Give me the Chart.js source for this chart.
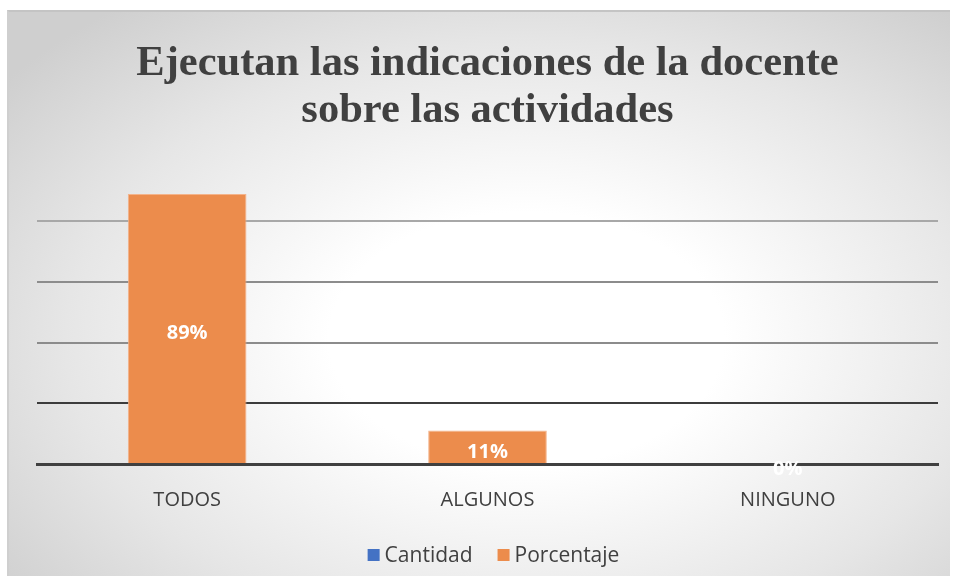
<!DOCTYPE html>
<html>
<head>
<meta charset="utf-8">
<script src="https://cdn.jsdelivr.net/npm/chart.js@4.4.0/dist/chart.umd.min.js"></script>
<style>
  html, body { margin: 0; padding: 0; background: #fff; }
  #box {
    position: absolute; left: 7px; top: 10px; width: 943px; height: 566px;
    background: radial-gradient(ellipse 70% 75% at 55% 58%, #ffffff 30%, #e6e6e6 70%, #cfcfcf 100%);
    border-top: 2px solid #c4c4c4; border-left: 2px solid #cfcfcf;
    box-sizing: border-box;
  }
  canvas { display: block; }
</style>
</head>
<body>
<div id="box"><canvas id="myChart" width="941" height="564"></canvas></div>
<script>
// datos
var categorias = ['TODOS', 'ALGUNOS', 'NINGUNO'];
var cantidad = [null, null, null];
var porcentaje = [0.89, 0.11, 0];
var etiquetas = ['89%', '11%', '0%'];
var tituloLineas = ['Ejecutan las indicaciones de la docente', 'sobre las actividades'];

const ctx = document.getElementById('myChart');

// etiquetas blancas dentro de las barras
const etiquetasPlugin = {
  id: 'etiquetas',
  afterDatasetsDraw(chart) {
    const c = chart.ctx;
    const meta = chart.getDatasetMeta(1);
    c.save();
    c.fillStyle = '#ffffff';
    c.font = 'bold 20px "Open Sans", sans-serif';
    c.textAlign = 'center';
    c.textBaseline = 'middle';
    meta.data.forEach(function(bar, i) {
      const y = (bar.y + bar.base) / 2 + 5;
      c.fillText(etiquetas[i], bar.x, y);
    });
    c.restore();
  }
};

// leyenda a mano (el espaciado de Excel es mas ancho)
const leyendaPlugin = {
  id: 'leyenda',
  afterDraw(chart) {
    const c = chart.ctx;
    const sets = chart.data.datasets;
    c.save();
    c.font = '21px "Open Sans", sans-serif';
    c.textBaseline = 'middle';
    c.textAlign = 'left';
    const caja = 12, sep = 5, hueco = 25;
    let total = 0;
    sets.forEach(function(d, i) {
      total += caja + sep + c.measureText(d.label).width + (i < sets.length - 1 ? hueco : 0);
    });
    let x = 484.5 - total / 2;
    const y = 543;
    sets.forEach(function(d) {
      c.fillStyle = d.backgroundColor;
      c.fillRect(x, y - caja / 2, caja, caja);
      x += caja + sep;
      c.fillStyle = '#404040';
      c.fillText(d.label, x, y + 1);
      x += c.measureText(d.label).width + hueco;
    });
    c.restore();
  }
};

var chart1 = new Chart(ctx, {
  type: 'bar',
  data: {
    labels: categorias,
    datasets: [{
      label: 'Cantidad',
      data: cantidad,
      backgroundColor: '#4472C4',
      borderColor: '#6f93d6',
      borderWidth: 1
    }, {
      label: 'Porcentaje',
      data: porcentaje,
      backgroundColor: '#EC8C4C',
      borderColor: '#F4B38A',
      borderWidth: 1,
      borderSkipped: 'bottom'
    }]
  },
  plugins: [etiquetasPlugin, leyendaPlugin],
  options: {
    responsive: false,
    animation: false,
    skipNull: true,
    barPercentage: 0.395,
    categoryPercentage: 1,
    layout: { padding: { left: 28, right: 12, top: 0, bottom: 40 } },
    plugins: {
      title: {
        display: true,
        text: tituloLineas,
        color: '#404040',
        font: { family: '"Liberation Serif", "Times New Roman", serif', size: 42.5, weight: 'bold', lineHeight: 1.1 },
        padding: { top: 28.5, bottom: 26.5 }
      },
      legend: { display: false },
      tooltip: { enabled: false }
    },
    scales: {
      x: {
        grid: { display: false, drawTicks: false },
        border: { display: true, color: '#404040', width: 3 },
        ticks: {
          color: '#404040',
          font: { family: '"Open Sans", sans-serif', size: 20 },
          padding: 24
        }
      },
      y: {
        min: 0,
        max: 1,
        ticks: { display: false, stepSize: 0.2 },
        border: { display: false },
        grid: {
          drawTicks: false,
          lineWidth: 2,
          color: function(c) {
            const v = c.tick ? Math.round(c.tick.value * 10) / 10 : 0;
            if (v === 0 || v === 1) return 'rgba(0,0,0,0)';
            if (v === 0.2) return '#3c3c3c';
            if (v === 0.8) return '#a8a8a8';
            return '#8c8c8c';
          }
        }
      }
    }
  }
});
</script>
</body>
</html>
